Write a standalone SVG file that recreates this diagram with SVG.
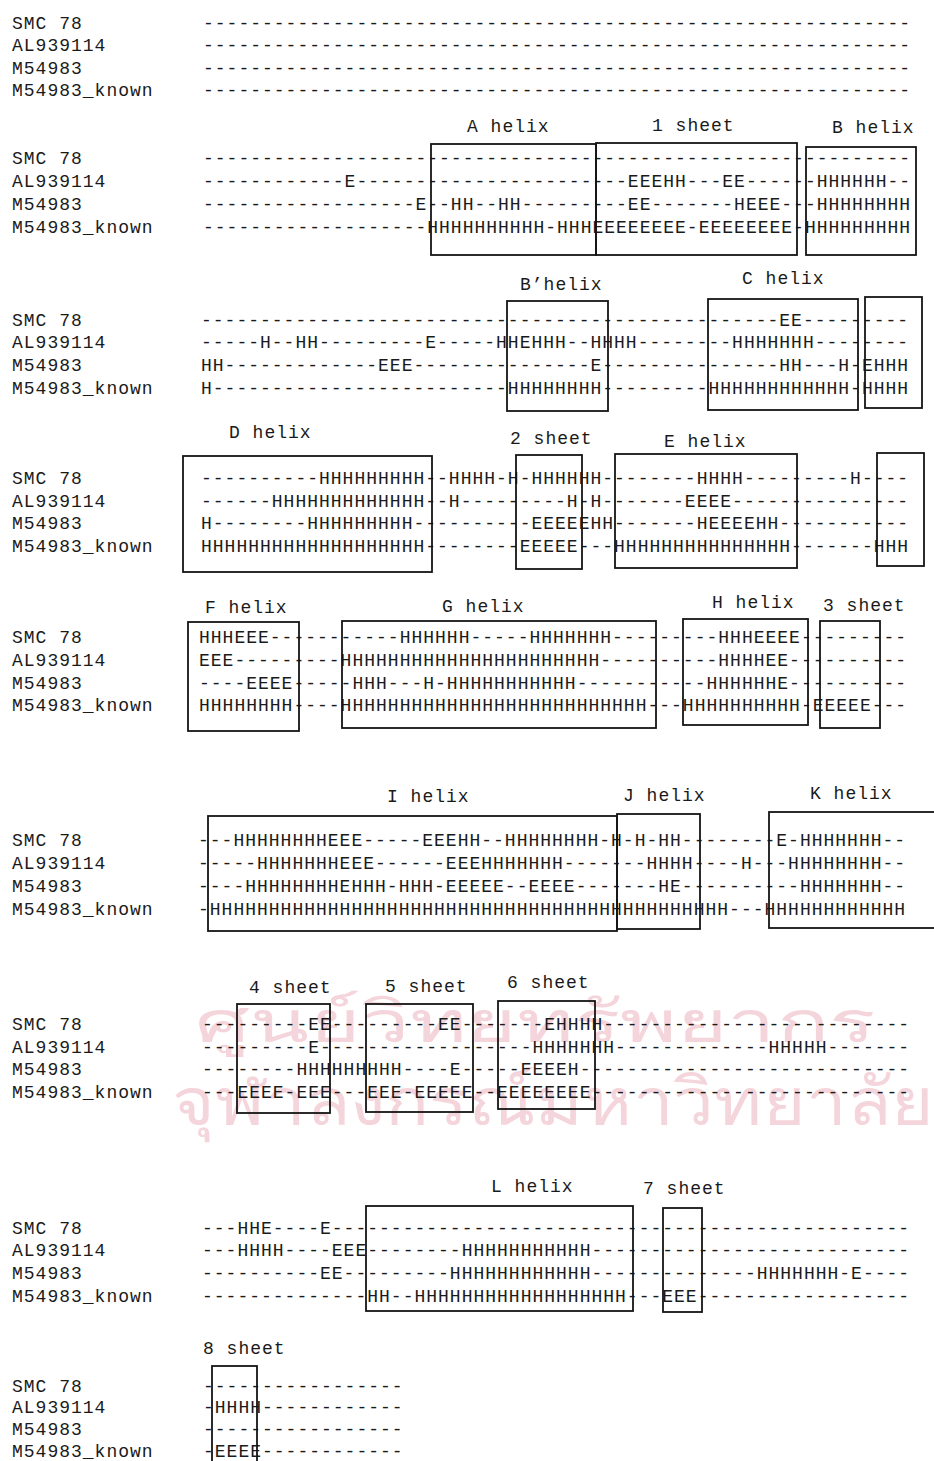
<svg xmlns="http://www.w3.org/2000/svg" width="934" height="1461" viewBox="0 0 934 1461">
<style>
.t{font-family:"Liberation Mono",monospace;font-size:18px;fill:#1a1a1a;letter-spacing:1px;white-space:pre}
.b{fill:none;stroke:#151515;stroke-width:1.8}
.wm{font-family:"Noto Sans","DejaVu Sans",sans-serif;fill:#f5d5dc}
</style>
<rect width="934" height="1461" fill="#ffffff"/>
<g id="watermark">
<text class="wm" x="195" y="1042" font-size="58" textLength="680" lengthAdjust="spacingAndGlyphs">ศูนย์วิทยทรัพยากร</text>
<text class="wm" x="172" y="1125" font-size="66" textLength="762" lengthAdjust="spacingAndGlyphs">จุฬาลงกรณ์มหาวิทยาลัย</text>
</g>
<g id="block1">
<text class="t" x="12" y="29">SMC 78</text>
<text class="t" x="12" y="51">AL939114</text>
<text class="t" x="12" y="74">M54983</text>
<text class="t" x="12" y="96">M54983_known</text>
<text class="t" x="203" y="29">------------------------------------------------------------</text>
<text class="t" x="203" y="51">------------------------------------------------------------</text>
<text class="t" x="203" y="74">------------------------------------------------------------</text>
<text class="t" x="203" y="96">------------------------------------------------------------</text>
</g>
<g id="block2">
<text class="t" x="467" y="132">A helix</text>
<text class="t" x="652" y="131">1 sheet</text>
<text class="t" x="832" y="133">B helix</text>
<text class="t" x="12" y="164">SMC 78</text>
<text class="t" x="12" y="187">AL939114</text>
<text class="t" x="12" y="210">M54983</text>
<text class="t" x="12" y="233">M54983_known</text>
<text class="t" x="203" y="164">------------------------------------------------------------</text>
<text class="t" x="203" y="187">------------E-----------------------EEEHH---EE------HHHHHH--</text>
<text class="t" x="203" y="210">------------------E--HH--HH---------EE-------HEEE---HHHHHHHH</text>
<text class="t" x="203" y="233">-------------------HHHHHHHHHH-HHHEEEEEEEE-EEEEEEEE-HHHHHHHHH</text>
<rect class="b" x="431" y="144" width="165" height="111"/>
<rect class="b" x="596" y="143" width="201" height="112"/>
<rect class="b" x="806" y="147" width="110" height="108"/>
</g>
<g id="block3">
<text class="t" x="520" y="290">B’helix</text>
<text class="t" x="742" y="284">C helix</text>
<text class="t" x="12" y="326">SMC 78</text>
<text class="t" x="12" y="348">AL939114</text>
<text class="t" x="12" y="371">M54983</text>
<text class="t" x="12" y="394">M54983_known</text>
<text class="t" x="201" y="326">-------------------------------------------------EE---------</text>
<text class="t" x="201" y="348">-----H--HH---------E-----HHEHHH--HHHH--------HHHHHHH--------</text>
<text class="t" x="201" y="371">HH-------------EEE---------------E---------------HH---H-EHHH</text>
<text class="t" x="201" y="394">H-------------------------HHHHHHHH---------HHHHHHHHHHHH-HHHH</text>
<rect class="b" x="507" y="301" width="101" height="110"/>
<rect class="b" x="708" y="299" width="150" height="111"/>
<rect class="b" x="865" y="297" width="57" height="111"/>
</g>
<g id="block4">
<text class="t" x="229" y="438">D helix</text>
<text class="t" x="510" y="444">2 sheet</text>
<text class="t" x="664" y="447">E helix</text>
<text class="t" x="12" y="484">SMC 78</text>
<text class="t" x="12" y="507">AL939114</text>
<text class="t" x="12" y="529">M54983</text>
<text class="t" x="12" y="552">M54983_known</text>
<text class="t" x="201" y="484">----------HHHHHHHHH--HHHH-H-HHHHHH--------HHHH---------H----</text>
<text class="t" x="201" y="507">------HHHHHHHHHHHHH--H---------H-H-------EEEE---------------</text>
<text class="t" x="201" y="529">H--------HHHHHHHHH----------EEEEEHH-------HEEEEHH-----------</text>
<text class="t" x="201" y="552">HHHHHHHHHHHHHHHHHHH--------EEEEE---HHHHHHHHHHHHHHH-------HHH</text>
<rect class="b" x="183" y="456" width="249" height="116"/>
<rect class="b" x="516" y="455" width="66" height="114"/>
<rect class="b" x="615" y="454" width="182" height="114"/>
<rect class="b" x="877" y="453" width="47" height="113"/>
</g>
<g id="block5">
<text class="t" x="205" y="613">F helix</text>
<text class="t" x="442" y="612">G helix</text>
<text class="t" x="712" y="608">H helix</text>
<text class="t" x="823" y="611">3 sheet</text>
<text class="t" x="12" y="643">SMC 78</text>
<text class="t" x="12" y="666">AL939114</text>
<text class="t" x="12" y="689">M54983</text>
<text class="t" x="12" y="711">M54983_known</text>
<text class="t" x="199" y="643">HHHEEE-----------HHHHHH-----HHHHHHH---------HHHEEEE---------</text>
<text class="t" x="199" y="666">EEE---------HHHHHHHHHHHHHHHHHHHHHH----------HHHHEE----------</text>
<text class="t" x="199" y="689">----EEEE-----HHH---H-HHHHHHHHHHH-----------HHHHHHE----------</text>
<text class="t" x="199" y="711">HHHHHHHH----HHHHHHHHHHHHHHHHHHHHHHHHHH---HHHHHHHHHH-EEEEE---</text>
<rect class="b" x="188" y="622" width="111" height="109"/>
<rect class="b" x="342" y="621" width="314" height="107"/>
<rect class="b" x="683" y="619" width="125" height="106"/>
<rect class="b" x="820" y="621" width="60" height="107"/>
</g>
<g id="block6">
<text class="t" x="387" y="802">I helix</text>
<text class="t" x="623" y="801">J helix</text>
<text class="t" x="810" y="799">K helix</text>
<text class="t" x="12" y="846">SMC 78</text>
<text class="t" x="12" y="869">AL939114</text>
<text class="t" x="12" y="892">M54983</text>
<text class="t" x="12" y="915">M54983_known</text>
<text class="t" x="198" y="846">---HHHHHHHHEEE-----EEEHH--HHHHHHHH-H-H-HH--------E-HHHHHHH--</text>
<text class="t" x="198" y="869">-----HHHHHHHEEE------EEEHHHHHHH-------HHHH----H---HHHHHHHH--</text>
<text class="t" x="198" y="892">----HHHHHHHHEHHH-HHH-EEEEE--EEEE-------HE----------HHHHHHH--</text>
<text class="t" x="198" y="915">-HHHHHHHHHHHHHHHHHHHHHHHHHHHHHHHHHHHHHHHHHHHH---HHHHHHHHHHHH</text>
<rect class="b" x="208" y="816" width="409" height="115"/>
<rect class="b" x="617" y="814" width="83" height="115"/>
<rect class="b" x="769" y="812" width="175" height="116"/>
</g>
<g id="block7">
<text class="t" x="249" y="993">4 sheet</text>
<text class="t" x="385" y="992">5 sheet</text>
<text class="t" x="507" y="988">6 sheet</text>
<text class="t" x="12" y="1030">SMC 78</text>
<text class="t" x="12" y="1053">AL939114</text>
<text class="t" x="12" y="1075">M54983</text>
<text class="t" x="12" y="1098">M54983_known</text>
<text class="t" x="202" y="1030">---------EE---------EE-------EHHHH--------------------------</text>
<text class="t" x="202" y="1053">---------E------------------HHHHHHH-------------HHHHH-------</text>
<text class="t" x="202" y="1075">--------HHHHHHHHH----E-----EEEEH----------------------------</text>
<text class="t" x="202" y="1098">---EEEE-EEE---EEE-EEEEE--EEEEEEEE---------------------------</text>
<rect class="b" x="237" y="1004" width="93" height="109"/>
<rect class="b" x="366" y="1004" width="107" height="108"/>
<rect class="b" x="498" y="1001" width="97" height="108"/>
</g>
<g id="block8">
<text class="t" x="491" y="1192">L helix</text>
<text class="t" x="643" y="1194">7 sheet</text>
<text class="t" x="12" y="1234">SMC 78</text>
<text class="t" x="12" y="1256">AL939114</text>
<text class="t" x="12" y="1279">M54983</text>
<text class="t" x="12" y="1302">M54983_known</text>
<text class="t" x="202" y="1234">---HHE----E-------------------------------------------------</text>
<text class="t" x="202" y="1256">---HHHH----EEE--------HHHHHHHHHHH---------------------------</text>
<text class="t" x="202" y="1279">----------EE---------HHHHHHHHHHHH--------------HHHHHHH-E----</text>
<text class="t" x="202" y="1302">--------------HH--HHHHHHHHHHHHHHHHHH---EEE------------------</text>
<rect class="b" x="366" y="1206" width="267" height="105"/>
<rect class="b" x="663" y="1208" width="39" height="104"/>
</g>
<g id="block9">
<text class="t" x="203" y="1354">8 sheet</text>
<text class="t" x="12" y="1392">SMC 78</text>
<text class="t" x="12" y="1413">AL939114</text>
<text class="t" x="12" y="1435">M54983</text>
<text class="t" x="12" y="1457">M54983_known</text>
<text class="t" x="203" y="1392">-----------------</text>
<text class="t" x="203" y="1413">-HHHH------------</text>
<text class="t" x="203" y="1435">-----------------</text>
<text class="t" x="203" y="1457">-EEEE------------</text>
<rect class="b" x="212" y="1366" width="45" height="110"/>
</g>
</svg>
